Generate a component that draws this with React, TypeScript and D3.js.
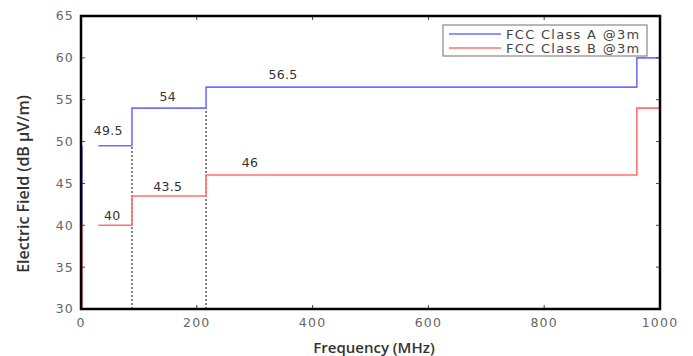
import { useEffect, useRef } from "react";
import * as d3 from "d3";

// step limits (freq MHz, level dBµV/m)
const freqSteps = [30, 88, 216, 960, 1000];
const classA = [49.5, 54, 56.5, 60];
const classB = [40, 43.5, 46, 54];
const xTicks = [0, 200, 400, 600, 800, 1000];
const yTicks = [30, 35, 40, 45, 50, 55, 60, 65];
// value labels: [freq, level, text]
const labelsA: [number, number, string][] = [[47, 51.3, "49.5"], [150, 55.4, "54"], [349, 58.0, "56.5"]];
const labelsB: [number, number, string][] = [[54, 41.1, "40"], [150, 44.6, "43.5"], [292, 47.5, "46"]];
const series = [
  { name: "FCC Class A @3m", color: "#7070ff", vals: classA },
  { name: "FCC Class B @3m", color: "#ff7070", vals: classB },
];

export default function App() {
  const ref = useRef<SVGSVGElement>(null);

  useEffect(() => {
    if (!ref.current) return;
    const W = 693, H = 356;
    const ML = 81, MR = 33, MT = 16, MB = 47;
    const svg = d3.select(ref.current).attr("width", W).attr("height", H);
    svg.selectAll("*").remove();
    const iw = W - ML - MR, ih = H - MT - MB;
    const x = d3.scaleLinear().domain([0, 1000]).range([0, iw]);
    const y = d3.scaleLinear().domain([30, 65]).range([ih, 0]);
    const g = svg.append("g").attr("transform", `translate(${ML},${MT})`);
    const font = "'DejaVu Sans', Verdana, sans-serif";

    // dotted band edges
    [[88, 49.5], [216, 54]].forEach(([f, v]) => {
      g.append("line").attr("x1", x(f)).attr("x2", x(f)).attr("y1", y(30)).attr("y2", y(v))
        .attr("stroke", "#333").attr("stroke-width", 1.2).attr("stroke-dasharray", "2,2");
    });

    const line = d3.line<[number, number]>().x(d => x(d[0])).y(d => y(d[1])).curve(d3.curveStepAfter);
    series.forEach(s => {
      const pts: [number, number][] = s.vals.map((v, i) => [freqSteps[i], v]);
      pts.push([freqSteps[freqSteps.length - 1], s.vals[s.vals.length - 1]]);
      g.append("path").attr("d", line(pts)).attr("fill", "none")
        .attr("stroke", s.color).attr("stroke-width", 1.6);
      g.append("line").attr("x1", x(0) + 1).attr("x2", x(0) + 1).attr("y1", y(30)).attr("y2", y(s.vals[0]))
        .attr("stroke", s.color).attr("stroke-width", 1.6);
    });

    [...labelsA, ...labelsB].forEach(([f, v, t]) => {
      g.append("text").attr("x", x(f)).attr("y", y(v)).attr("dy", "0.35em")
        .attr("text-anchor", "middle").attr("font-family", font).attr("font-size", 12.5)
        .attr("fill", "#333").attr("letter-spacing", 0.3).text(t);
    });

    // ticks (inside, mirrored)
    const tk = g.append("g").attr("stroke", "#444").attr("stroke-width", 1);
    xTicks.forEach(t => {
      tk.append("line").attr("x1", x(t)).attr("x2", x(t)).attr("y1", ih).attr("y2", ih - 4);
      tk.append("line").attr("x1", x(t)).attr("x2", x(t)).attr("y1", 0).attr("y2", 4);
    });
    yTicks.forEach(t => {
      tk.append("line").attr("x1", 0).attr("x2", 4).attr("y1", y(t)).attr("y2", y(t));
      tk.append("line").attr("x1", iw).attr("x2", iw - 4).attr("y1", y(t)).attr("y2", y(t));
    });

    g.append("rect").attr("width", iw).attr("height", ih).attr("fill", "none")
      .attr("stroke", "#000").attr("stroke-width", 2.5);

    xTicks.forEach(t => {
      g.append("text").attr("x", x(t)).attr("y", ih + 14).attr("dy", "0.35em")
        .attr("text-anchor", "middle").attr("font-family", font).attr("font-size", 12.5)
        .attr("letter-spacing", 1.2).attr("fill", "#666").text(t);
    });
    yTicks.forEach(t => {
      g.append("text").attr("x", -7).attr("y", y(t)).attr("dy", "0.35em")
        .attr("text-anchor", "end").attr("font-family", font).attr("font-size", 12.5)
        .attr("letter-spacing", 1.2).attr("fill", "#666").text(t);
    });

    svg.append("text").attr("x", 374).attr("y", 348).attr("dy", "0.35em")
      .attr("text-anchor", "middle").attr("font-family", "'Open Sans', sans-serif")
      .attr("font-size", 15).attr("font-weight", 600).attr("fill", "#333").text("Frequency (MHz)");
    svg.append("text").attr("transform", "translate(23,184) rotate(-90)").attr("dy", "0.35em")
      .attr("text-anchor", "middle").attr("font-family", "'Open Sans', sans-serif")
      .attr("font-size", 16).attr("font-weight", 600).attr("fill", "#333").text("Electric Field (dB µV/m)");

    // legend
    const lg = svg.append("g").attr("transform", "translate(443,25)");
    lg.append("rect").attr("width", 204).attr("height", 31).attr("fill", "#fff")
      .attr("stroke", "#888").attr("stroke-width", 1.2);
    series.forEach((s, i) => {
      const yy = 9 + i * 14;
      lg.append("line").attr("x1", 6).attr("x2", 58).attr("y1", yy).attr("y2", yy)
        .attr("stroke", s.color).attr("stroke-width", 1.6);
      lg.append("text").attr("x", 63).attr("y", yy).attr("dy", "0.35em")
        .attr("font-family", font).attr("font-size", 13).attr("letter-spacing", 1.3)
        .attr("fill", "#444").text(s.name);
    });
  }, []);

  return <svg ref={ref} style={{ position: "absolute", left: 0, top: 0 }} />;
}
